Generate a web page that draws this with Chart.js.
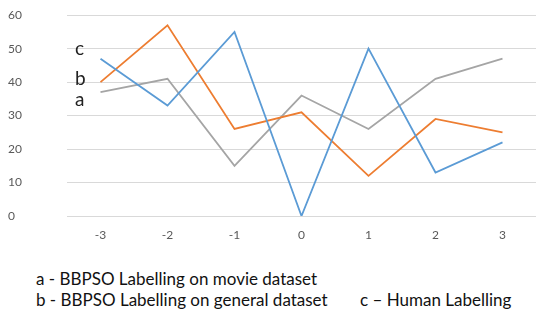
<!DOCTYPE html>
<html>
<head>
<meta charset="utf-8">
<script src="https://cdn.jsdelivr.net/npm/chart.js@4"></script>
<style>
  body { margin: 0; background: #fff; width: 550px; height: 320px; position: relative; overflow: hidden; font-family: Lato, "Open Sans", sans-serif; }
  #wrap { position: absolute; left: 0; top: 0; width: 550px; height: 250px; }
  .tag { position: absolute; font-size: 19px; color: #222; }
  .note { position: absolute; font-size: 17px; color: #111; white-space: nowrap; }
</style>
</head>
<body>
<div id="wrap"><canvas id="chart"></canvas></div>
<div class="tag" style="left:75px; top:36px;">c</div>
<div class="tag" style="left:75px; top:66px;">b</div>
<div class="tag" style="left:75px; top:87px;">a</div>
<div class="note" style="left:36px; top:268px;">a - BBPSO Labelling on movie dataset</div>
<div class="note" style="left:36px; top:289px;">b - BBPSO Labelling on general dataset</div>
<div class="note" style="left:360px; top:289px;">c – Human Labelling</div>
<script>
// x categories
const categories = ['-3', '-2', '-1', '0', '1', '2', '3'];

// values
const humanLabelling = [47, 33, 55, 0, 50, 13, 22];      // c (blue)
const generalDataset = [40, 57, 26, 31, 12, 29, 25];     // b (orange)
const movieDataset = [37, 41, 15, 36, 26, 41, 47];       // a (gray)

const yTicks = [0, 10, 20, 30, 40, 50, 60];

function line(label, data, color) {
  return {
    label: label,
    data: data,
    borderColor: color,
    backgroundColor: color,
    borderWidth: 1.8,
    pointRadius: 0,
    tension: 0,
    fill: false
  };
}

new Chart(document.getElementById('chart'), {
  type: 'line',
  data: {
    labels: categories,
    datasets: [
      line('c', humanLabelling, '#5b9bd5'),
      line('b', generalDataset, '#ed7d31'),
      line('a', movieDataset, '#a5a5a5')
    ]
  },
  options: {
    responsive: true,
    maintainAspectRatio: false,
    animation: false,
    layout: { padding: { left: 8, right: 14, top: 8, bottom: 0 } },
    plugins: { legend: { display: false }, tooltip: { enabled: false } },
    scales: {
      x: {
        offset: true,
        grid: { display: false, drawTicks: false },
        border: { display: false },
        ticks: { color: '#595959', font: { family: 'Lato', size: 12 }, padding: 12 },
        afterFit: (axis) => { axis.height = 34; }
      },
      y: {
        min: 0,
        max: 60,
        afterBuildTicks: (axis) => { axis.ticks = yTicks.map(v => ({ value: v })); },
        grid: { color: '#d9d9d9', drawTicks: false },
        border: { display: false },
        ticks: { color: '#595959', font: { family: 'Lato', size: 12 }, crossAlign: 'far', padding: 8 },
        afterFit: (axis) => { axis.width = 59; }
      }
    }
  }
});
</script>
</body>
</html>
